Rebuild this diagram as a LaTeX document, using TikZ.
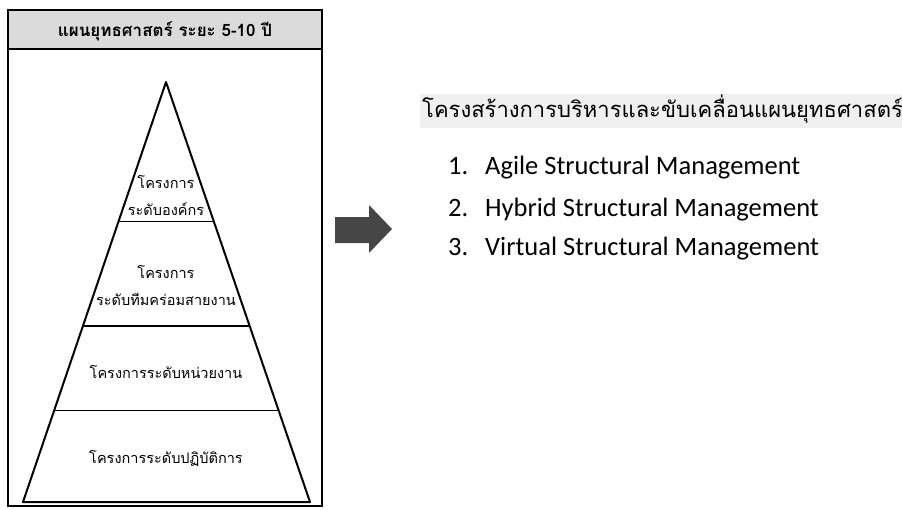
\documentclass[tikz,border=0pt]{standalone}
\usepackage{fontspec}
\setmainfont{Carlito}
\newfontfamily\thaifont[Script=Thai]{Loma}
\usetikzlibrary{calc}

\begin{document}
\begin{tikzpicture}[
    x = 1pt, y = -1pt,
    every node/.style = {inner sep = 0pt},
    level/.style = {font = \thaifont\fontsize{14.5}{18}\selectfont, anchor = base},
    heading/.style = {font = \thaifont\bfseries\fontsize{17}{20}\selectfont, anchor = base},
    item/.style = {font = \fontsize{26.5}{30}\selectfont, anchor = base west}]

\useasboundingbox (0,0) rectangle (902,509);
\fill[gray!12] (420,94) rectangle (902,128);
\draw[line width = 1.2pt, fill = gray!28] (8,10) rectangle (322,49);
\draw[line width = 1.2pt] (8,49) rectangle (322,506);

\coordinate (apex) at (166,82);
\coordinate (left) at (23,502);
\coordinate (right) at (310,502);
\draw[line width = 2pt, line join = round] (apex) -- (right) -- (left) -- cycle;
\draw[line width = 1.2pt]
	  ($(apex)!0.333!(left)$) -- ($(apex)!0.333!(right)$)
	  ($(apex)!0.581!(left)$) -- ($(apex)!0.581!(right)$)
	  ($(apex)!0.783!(left)$) -- ($(apex)!0.783!(right)$)
	  ;
\fill[gray!55!black]
	  (335,217) -- (369,217) -- (369,205) -- (392,229) --
	  (369,253) -- (369,243) -- (335,243) -- cycle;

\path (165,36) node[heading] (plan) {แผนยุทธศาสตร์ ระยะ 5-10 ปี}
	  (166,188) node[level] (corp) {โครงการ}
	  (166,215) node[level] (corplevel) {ระดับองค์กร}
	  (166,278) node[level] (team) {โครงการ}
	  (166,305) node[level] (teamlevel) {ระดับทีมคร่อมสายงาน}
	  (166,378) node[level] (unit) {โครงการระดับหน่วยงาน}
	  (166,463) node[level] (ops) {โครงการระดับปฏิบัติการ}
	  (422,117) node[anchor = base west, font = \thaifont\fontsize{22}{26}\selectfont] (title) {โครงสร้างการบริหารและขับเคลื่อนแผนยุทธศาสตร์}
	  (448,174) node[item] (n1) {1.}
	  (485,174) node[item] (agile) {Agile Structural Management}
	  (448,216) node[item] (n2) {2.}
	  (485,216) node[item] (hybrid) {Hybrid Structural Management}
	  (448,255) node[item] (n3) {3.}
	  (485,255) node[item] (virtual) {Virtual Structural Management}
	  ;
\end{tikzpicture}
\end{document}
